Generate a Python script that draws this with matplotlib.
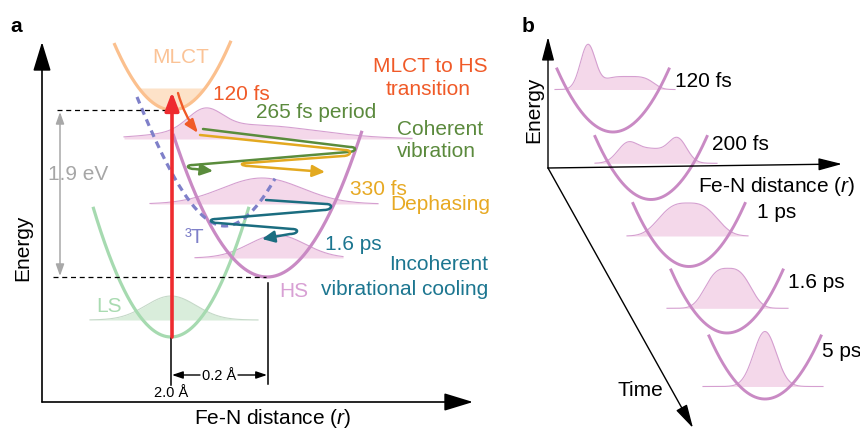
import numpy as np
import matplotlib.pyplot as plt
from matplotlib.path import Path
from matplotlib.patches import FancyArrowPatch

plt.rcParams['font.family'] = ['Liberation Sans', 'DejaVu Sans']
plt.rcParams['mathtext.fontset'] = 'custom'
plt.rcParams['mathtext.rm'] = 'Liberation Sans'
plt.rcParams['mathtext.it'] = 'Liberation Sans:italic'

# ---- panel a: potential wells (vertex x, vertex y, curvature, x from, x to) ----
well_names = ['LS', 'HS', 'MLCT']
well_x0 = [171, 267, 172]
well_y0 = [337, 277, 110]
well_k = [0.0214, 0.0162, 0.0199]
well_xmin = [93, 173, 114]
well_xmax = [249, 362, 231]
well_colors = ['#a6dab0', '#c98ac4', '#fbc08e']

# 3T state (vertex, quadratic and cubic terms)
t_x0, t_y0 = 225, 226
t_a, t_b = 0.02198, 6.04e-5
t_xmin, t_xmax = 137, 275

# ---- panel a: wavepackets (baseline, x range, gaussian parts: amp, centre, sigma, power) ----
pa_base = [139, 204, 258, 320]
pa_xrange = [(124, 412), (150, 378), (195, 343), (90, 258)]
pa_parts = [
    [(20, 205, 17, 2), (14, 250, 65, 2)],
    [(26, 262, 40, 2)],
    [(23, 277, 28, 2)],
    [(24, 171, 25, 2)],
]
pa_fill = ['#f4d8ea', '#f4d8ea', '#f4d8ea', '#d9eddb']
pa_edge = ['#d59fd0', '#d59fd0', '#d59fd0', '#c5d9c8']

# ---- panel a: relaxation paths (start, turn end, turn start, ..., tip) ----
green_path = [(203, 129), (350, 147), (348, 152), (193, 165), (195, 169), (213, 171)]
yellow_path = [(200, 135), (345, 150), (343, 156), (247, 163), (249, 166), (325, 172)]
teal_path = [(266, 200), (326, 204), (324, 210), (216, 219), (218, 223),
             (292, 229), (290, 234), (262, 239)]

# ---- panel b: wells and wavepackets at each delay ----
b_delays = ['120 fs', '200 fs', '1 ps', '1.6 ps', '5 ps']
b_x0 = [613, 651, 689, 727, 765]
b_y0 = [132, 199.5, 266.5, 333, 399]
b_k = 0.0201
b_half = 56
b_base = [89.5, 163.3, 236, 308.3, 386.5]
b_xrange = [(555, 675), (595, 717), (627, 748), (667, 788), (703, 823)]
b_parts = [
    [(45, 588, 7.5, 2), (13, 628, 23.7, 4)],
    [(17, 627, 10, 2), (22, 678, 9, 2), (14, 652, 16, 2)],
    [(33, 688, 27, 3)],
    [(40, 728, 21, 3)],
    [(55, 765, 11.3, 2)],
]
b_label_xy = [(675, 87), (712, 150), (757, 218), (788, 288), (822, 357)]

PURPLE = '#c98ac4'
FS = 15


def packet(x, parts):
    y = np.zeros_like(x)
    for amp, c, s, p in parts:
        y += amp * np.exp(-0.5 * np.abs((x - c) / s) ** p)
    return y


def arrow(ax, p0, p1, color, lw, hl, hw, style='-|>', rad=0.0, z=4):
    ax.add_patch(FancyArrowPatch(p0, p1, arrowstyle=f'{style},head_length={hl},head_width={hw}',
                                 mutation_scale=10, color=color, lw=lw, shrinkA=0, shrinkB=0,
                                 connectionstyle=f'arc3,rad={rad}', zorder=z))


def zigzag(ax, pts, color, r=8):
    verts = [pts[0]]
    codes = [Path.MOVETO]
    prev = pts[0]
    for i in range(1, len(pts) - 1, 2):
        a, b = pts[i], pts[i + 1]
        d = np.sign(a[0] - prev[0])
        verts += [a, (a[0] + d * r, a[1]), (b[0] + d * r, b[1]), b]
        codes += [Path.LINETO, Path.CURVE4, Path.CURVE4, Path.CURVE4]
        prev = b
    verts.append(pts[-1])
    codes.append(Path.LINETO)
    ax.add_patch(FancyArrowPatch(path=Path(verts, codes),
                                 arrowstyle='-|>,head_length=0.75,head_width=0.35',
                                 mutation_scale=10, color=color, lw=1.8, zorder=4))


fig = plt.figure(figsize=(8.6, 4.3), dpi=100)
ax = fig.add_axes([0, 0, 1, 1])
ax.set_xlim(0, 860)
ax.set_ylim(430, 0)
ax.axis('off')

# ================= panel a =================
ax.text(16, 32, 'a', fontsize=15, fontweight='bold', ha='center', va='baseline')

# wavepackets
for base, (x1, x2), parts, fc, ec in zip(pa_base, pa_xrange, pa_parts, pa_fill, pa_edge):
    x = np.linspace(x1, x2, 300)
    y = base - packet(x, parts)
    ax.fill_between(x, base, y, color=fc, lw=0, zorder=1)
    ax.plot(x, y, color=ec, lw=0.8, zorder=1.5)

# MLCT filled bottom
xm = np.linspace(139, 205, 100)
ax.fill_between(xm, 88, well_y0[2] - well_k[2] * (xm - well_x0[2]) ** 2,
                color='#fde2c8', lw=0, zorder=1)

# wells
for x0, y0, k, x1, x2, c in zip(well_x0, well_y0, well_k, well_xmin, well_xmax, well_colors):
    x = np.linspace(x1, x2, 200)
    ax.plot(x, y0 - k * (x - x0) ** 2, color=c, lw=2.3, zorder=2, solid_capstyle='butt')

# 3T dashed
xt = np.linspace(t_xmin, t_xmax, 200)
dx = np.abs(xt - t_x0)
ax.plot(xt, t_y0 - (t_a * dx ** 2 - t_b * dx ** 3), color='#7f80c9', lw=2.3,
        linestyle=(0, (2.2, 1.6)), zorder=2)

# reference dashed lines and 1.9 eV
ax.plot([57, 170], [110, 110], color='black', lw=0.9, linestyle=(0, (4, 3)), zorder=2)
ax.plot([53, 266], [277, 277], color='black', lw=0.9, linestyle=(0, (4, 3)), zorder=2)
arrow(ax, (60, 112), (60, 276), '#a8a8a8', 1.1, 0.7, 0.25, style='<|-|>', z=2)
ax.text(78, 180, '1.9 eV', fontsize=FS, color='#a6a6a6', ha='center', va='baseline', zorder=3)

# red excitation and vertical markers
arrow(ax, (172, 337), (172, 92), '#ee2b2f', 2.6, 1.1, 0.42, z=4)
ax.plot([171, 171], [338, 385], color='black', lw=1.1, zorder=2)
ax.plot([268, 268], [283, 384], color='black', lw=1.1, zorder=2)
arrow(ax, (200, 375), (172, 375), 'black', 1.0, 0.65, 0.22)
arrow(ax, (238, 375), (267, 375), 'black', 1.0, 0.65, 0.22)
ax.text(219, 380, '0.2 Å', fontsize=10.5, ha='center', va='baseline')
ax.text(171, 397, '2.0 Å', fontsize=10.5, ha='center', va='baseline')

# MLCT -> HS arrow
arrow(ax, (178, 93), (198, 133), '#f05a28', 1.7, 0.8, 0.3, rad=0.1)

# relaxation paths
zigzag(ax, green_path, '#5a8c3c')
zigzag(ax, yellow_path, '#e3a920')
zigzag(ax, teal_path, '#1b6d80')

# axes
arrow(ax, (42, 402), (42, 42), 'black', 1.2, 1.8, 0.55, z=5)
arrow(ax, (42, 402), (473, 402), 'black', 1.2, 1.8, 0.55, z=5)
ax.text(23, 248, 'Energy', fontsize=FS, rotation=90, ha='center', va='center')
ax.text(273, 424, 'Fe-N distance ($\\mathit{r}$)', fontsize=FS, ha='center', va='baseline')

# labels
ax.text(181, 63, 'MLCT', fontsize=FS, color='#fbc396', ha='center', va='baseline')
ax.text(241, 100, '120 fs', fontsize=FS, color='#f05a28', ha='center', va='baseline')
ax.text(430, 72, 'MLCT to HS', fontsize=FS, color='#f05a28', ha='center', va='baseline')
ax.text(428, 95, 'transition', fontsize=FS, color='#f05a28', ha='center', va='baseline')
ax.text(316, 118, '265 fs period', fontsize=FS, color='#5b8a3d', ha='center', va='baseline')
ax.text(397, 135, 'Coherent', fontsize=FS, color='#5b8a3d', ha='left', va='baseline')
ax.text(397, 157, 'vibration', fontsize=FS, color='#5b8a3d', ha='left', va='baseline')
ax.text(378, 195, '330 fs', fontsize=FS, color='#e7a923', ha='center', va='baseline')
ax.text(440, 210, 'Dephasing', fontsize=FS, color='#e7a923', ha='center', va='baseline')
ax.text(353, 250, '1.6 ps', fontsize=FS, color='#1c7690', ha='center', va='baseline')
ax.text(439, 270, 'Incoherent', fontsize=FS, color='#1c7690', ha='center', va='baseline')
ax.text(405, 295, 'vibrational cooling', fontsize=FS, color='#1c7690', ha='center', va='baseline')
ax.text(294, 297, 'HS', fontsize=FS, color='#d8a0d4', ha='center', va='baseline')
ax.text(109, 312, 'LS', fontsize=FS, color='#a9dbb1', ha='center', va='baseline')
ax.text(195, 243, '³T', fontsize=FS, color='#7f80c9', ha='center', va='baseline')

# ================= panel b =================
ax.text(528, 32, 'b', fontsize=15, fontweight='bold', ha='center', va='baseline')

arrow(ax, (548, 168), (548, 37), 'black', 1.0, 1.45, 0.38, z=5)
arrow(ax, (548, 168), (842, 164), 'black', 1.0, 1.45, 0.38, z=5)
arrow(ax, (548, 168), (693, 428), 'black', 1.0, 1.45, 0.38, z=5)
ax.text(534, 110, 'Energy', fontsize=FS, rotation=90, ha='center', va='center')
ax.text(777, 192, 'Fe-N distance ($\\mathit{r}$)', fontsize=FS, ha='center', va='baseline')
ax.text(640, 396, 'Time', fontsize=FS, ha='center', va='baseline')

for x0, y0, base, (x1, x2), parts, lab, (lx, ly) in zip(b_x0, b_y0, b_base, b_xrange,
                                                        b_parts, b_delays, b_label_xy):
    x = np.linspace(x1, x2, 300)
    y = base - packet(x, parts)
    ax.fill_between(x, base, y, color='#f4d8ea', lw=0, zorder=1)
    ax.plot(x, y, color='#d59fd0', lw=0.8, zorder=1.5)
    xp = np.linspace(x0 - b_half, x0 + b_half, 200)
    ax.plot(xp, y0 - b_k * (xp - x0) ** 2, color=PURPLE, lw=2.1, zorder=2)
    ax.text(lx, ly, lab, fontsize=FS, ha='left', va='baseline')

fig.savefig('out.png', dpi=100)
